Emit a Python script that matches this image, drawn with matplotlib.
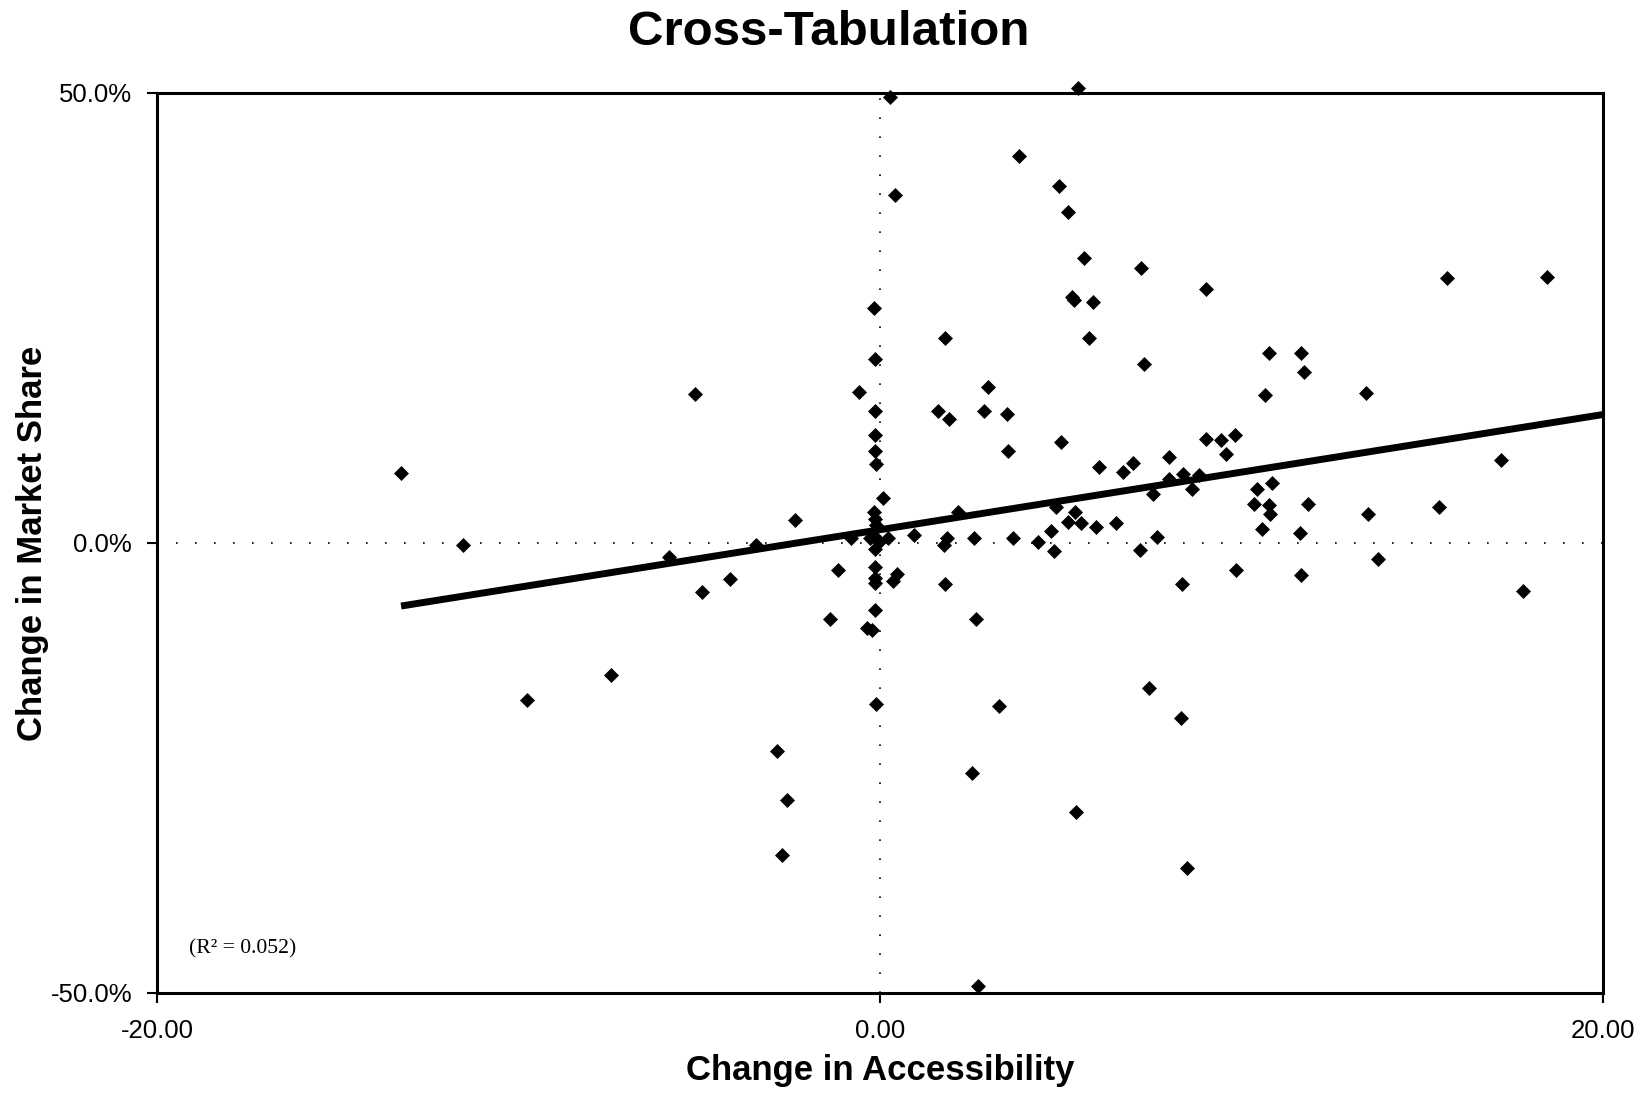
import numpy as np
import matplotlib
matplotlib.use("Agg")
import matplotlib.pyplot as plt
from matplotlib.ticker import FixedLocator

# change in accessibility (x) and change in market share, % (y)
access = [
    -13.25, -11.53, -9.76, -7.43, -5.83, -5.13, -4.93, -4.15, -3.42, -2.84,
    -2.57, -2.72, -2.34, -1.38, -1.15, -0.80, -0.57, -0.36, -0.22, -0.16,
    -0.13, -0.13, -0.13, -0.13, -0.10, 0.07, -0.16, -0.13, -0.10, -0.13,
    -0.28, -0.04, -0.13, -0.13, -0.13, -0.13, -0.13, -0.10, 0.28, 0.42,
    0.22, 0.36, 0.48, 0.95, 1.61, 1.79, 1.91, 1.76, 1.85, 1.79,
    2.17, 2.60, 2.66, 2.55, 2.72, 2.87, 2.98, 3.30, 3.51, 3.53,
    3.68, 3.85, 4.38, 4.73, 4.81, 4.87, 4.96, 5.19, 5.02, 5.19,
    5.31, 5.37, 5.40, 5.43, 5.48, 5.57, 5.63, 5.77, 5.89, 5.98,
    6.07, 6.53, 6.71, 7.00, 7.20, 7.23, 7.29, 7.43, 7.55, 7.67,
    7.99, 7.99, 8.33, 8.36, 8.39, 8.48, 8.63, 8.83, 9.03, 9.03,
    9.44, 9.56, 9.82, 9.85, 10.34, 10.43, 10.57, 10.66, 10.75, 10.75,
    10.78, 10.84, 11.62, 11.65, 11.65, 11.74, 11.85, 13.45, 13.51, 13.77,
    15.46, 15.69, 17.18, 17.79, 18.46,
]
share = [
    7.8, -0.2, -17.4, -14.7, -1.6, 16.5, -5.4, -4.0, -0.2, -23.1,
    -28.6, -34.7, 2.5, -8.4, -3.0, 0.6, 16.8, -9.5, -9.7, 26.1,
    20.4, 14.7, 12.0, 10.2, 8.8, 5.0, 3.4, 2.7, 2.0, 0.7,
    0.6, 0.1, -0.7, -2.7, -3.9, -4.4, -7.4, -17.9, 49.6, 38.7,
    0.6, -4.2, -3.4, 0.9, 14.7, 22.8, 13.8, -0.2, 0.5, -4.6,
    3.4, 0.6, -8.5, -25.6, -49.2, 14.7, 17.3, -18.1, 14.3, 10.2,
    0.6, 43.0, 0.1, 1.3, -0.9, 4.0, 39.7, 36.8, 11.2, 2.3,
    27.3, 27.0, 3.4, -29.9, 50.6, 2.2, 31.7, 22.8, 26.8, 1.8,
    8.4, 2.2, 7.9, 8.9, -0.8, 30.5, 19.9, -16.1, 5.4, 0.7,
    9.5, 7.1, -19.5, -4.6, 7.7, -36.1, 6.0, 7.6, 28.2, 11.6,
    11.4, 9.9, 12.0, -3.0, 4.3, 6.0, 1.6, 16.4, 21.1, 4.2,
    3.2, 6.7, 1.1, 21.1, -3.6, 19.0, 4.3, 16.7, 3.2, -1.8,
    4.0, 29.4, 9.2, -5.3, 29.6,
]

x_ticks = [-20, 0, 20]
y_ticks = [-50, 0, 50]

# linear trend as printed with the chart
trend_slope = 0.64
trend_intercept = 1.47
r_squared = 0.052

plt.rcParams['font.family'] = ['Liberation Sans', 'DejaVu Sans']

fig = plt.figure(figsize=(16.48, 10.95), dpi=100)
ax = fig.add_axes([0.0953, 0.0932, 0.8774, 0.8219])

x = np.array(access)
y = np.array(share)

# trend line runs from the leftmost point out to the right edge
line_x = np.array([x.min(), x_ticks[-1]])

ax.axhline(0, color='black', lw=1.2, linestyle=(0, (1, 10.4)), zorder=1)
ax.axvline(0, color='black', lw=1.2, linestyle=(0, (1, 10.4)), zorder=1)
ax.plot(line_x, trend_slope * line_x + trend_intercept, color='black', lw=5,
        solid_capstyle='butt', zorder=2)
ax.plot(x, y, linestyle='none', marker='D', ms=7.5, color='black',
        markeredgewidth=0.5, clip_on=False, zorder=3)

ax.set_xlim(x_ticks[0], x_ticks[-1])
ax.set_ylim(y_ticks[0], y_ticks[-1])
ax.xaxis.set_major_locator(FixedLocator(x_ticks))
ax.yaxis.set_major_locator(FixedLocator(y_ticks))
ax.set_xticklabels([f"{v:.2f}" for v in x_ticks])
ax.set_yticklabels([f"{v:.1f}%" for v in y_ticks])
ax.tick_params(axis='both', direction='out', length=7, width=1.5,
               labelsize=18.5, color='black')
ax.tick_params(axis='x', pad=12)
ax.tick_params(axis='y', pad=11)

for side in ax.spines.values():
    side.set_linewidth(2.2)

ax.set_xlabel('Change in Accessibility', fontsize=25, fontweight='bold',
              labelpad=8)
ax.set_ylabel('Change in Market Share', fontsize=25, fontweight='bold',
              labelpad=1)
fig.suptitle('Cross-Tabulation', fontsize=35.5, fontweight='bold', y=0.991,
             x=0.503)

ax.text(0.022, 0.044, f"(R² = {r_squared})", transform=ax.transAxes,
        fontsize=15.6, family=['Liberation Serif', 'DejaVu Serif'])

fig.savefig('out.png', dpi=100)
